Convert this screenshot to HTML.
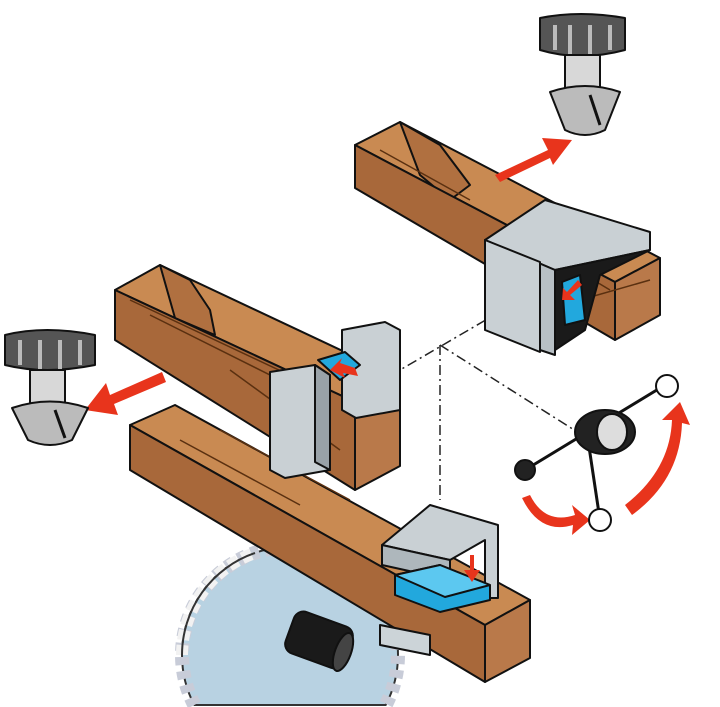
<!DOCTYPE html>
<html><head><meta charset="utf-8"><style>html,body{margin:0;padding:0;background:#fff;width:720px;height:707px;overflow:hidden}svg{display:block}</style></head>
<body>
<svg width="720" height="707" viewBox="0 0 720 707" xmlns="http://www.w3.org/2000/svg" stroke="#111" stroke-width="2" stroke-linejoin="round">
<!-- saw blade (clipped within frame) -->
<g>
<path d="M194.3,705 A108,108 0 1 1 385.7,705 Z" fill="#b8d2e2" stroke="#333"/>
<path d="M194.3,705 A108,108 0 1 1 385.7,705" fill="none" stroke="#c8ccd8" stroke-width="14" stroke-dasharray="8 6"/>
<path d="M182,655 A108,108 0 0 1 255,553" fill="none" stroke="#f2f2f2" stroke-width="12" stroke-dasharray="10 5"/>
<path d="M182,655 A108,108 0 0 1 255,553" fill="none" stroke="#333" stroke-width="2"/>
</g>
<!-- dash-dot lines -->
<g fill="none" stroke="#222" stroke-width="1.5" stroke-dasharray="10 4 2 4">
<path d="M520,300 L400,370"/>
<path d="M440,345 L440,500"/>
<path d="M440,345 L590,440"/>
</g>
<!-- bottom beam -->
<polygon points="130,425 175,405 530,600 485,625" fill="#c98a52"/>
<polygon points="130,425 485,625 485,682 130,470" fill="#a8683a"/>
<polygon points="485,625 530,600 530,658 485,682" fill="#b9794a"/>
<path d="M180,440 L300,505 M220,430 L350,500 M400,560 L470,600" stroke="#5a3010" stroke-width="1.5" fill="none"/>
<!-- black cylinder -->
<rect x="288" y="618" width="62" height="44" rx="10" fill="#1a1a1a" transform="rotate(20 319 640)"/>
<ellipse cx="343" cy="652" rx="8" ry="20" fill="#444" transform="rotate(20 343 652)"/>
<!-- small plate under -->
<polygon points="380,625 430,635 430,655 380,645" fill="#ccd4d8"/>
<!-- bottom bracket -->
<polygon points="382,545 430,505 498,525 498,598 485,598 485,540 450,560" fill="#c9d0d4"/>
<polygon points="382,545 450,560 450,580 382,565" fill="#aeb7bc"/>
<polygon points="395,575 440,565 490,585 490,600 440,612 395,595" fill="#22a8dd"/>
<polygon points="395,575 440,565 490,585 445,597" fill="#5cc8f0"/>
<!-- middle beam -->
<polygon points="115,290 160,265 400,378 355,402" fill="#c98a52"/>
<polygon points="160,265 190,280 210,310 215,335 175,318" fill="#b07040"/>
<polygon points="115,290 355,402 355,490 115,340" fill="#a8683a"/>
<polygon points="355,402 400,378 400,466 355,490" fill="#b9794a"/>
<path d="M130,300 L300,380 M150,315 L320,400 M230,370 L340,450" stroke="#5a3010" stroke-width="1.5" fill="none"/>
<!-- plates -->
<polygon points="342,330 385,322 400,330 400,410 356,418 342,410" fill="#c9d0d4"/>
<polygon points="318,360 345,352 360,365 340,380" fill="#22a8dd"/>
<polygon points="270,372 315,365 330,375 330,470 285,478 270,470" fill="#c9d0d4"/>
<polygon points="315,365 330,375 330,470 315,462" fill="#99a2a8"/>
<!-- top beam -->
<polygon points="355,145 400,122 660,258 615,282" fill="#c98a52"/>
<polygon points="400,122 440,145 470,185 450,200 420,175" fill="#b07040"/>
<polygon points="355,145 615,282 615,340 355,188" fill="#a8683a"/>
<polygon points="615,282 660,258 660,315 615,340" fill="#b9794a"/>
<path d="M380,150 L470,200 M560,260 L610,290 M580,300 L650,280" stroke="#5a3010" stroke-width="1.5" fill="none"/>
<!-- top bracket -->
<polygon points="485,240 545,200 650,232 650,250 555,270" fill="#c9d0d4"/>
<polygon points="485,240 555,270 555,355 540,350 540,275 485,255" fill="#b8c0c5"/>
<polygon points="485,240 540,262 540,352 485,330" fill="#c9d0d4"/>
<polygon points="555,270 650,250 600,275 585,330 555,350" fill="#1a1a1a"/>
<polygon points="562,282 580,275 585,320 565,325" fill="#22a8dd"/>
<!-- red arrows -->
<g fill="#e8341c" stroke="none">
<polygon points="495,175 548,150 542,138 572,140 553,165 550,158 500,182"/>
<polygon points="162,372 110,395 106,383 85,410 118,415 114,404 166,382"/>
<polygon points="355,368 340,363 342,358 330,370 345,378 343,373 358,376"/>
<polygon points="582,285 570,295 575,300 562,300 563,288 567,292 578,280"/>
<polygon points="470,555 470,570 464,570 472,582 480,570 474,570 474,555"/>
<path d="M530,495 Q545,525 575,515 L572,505 L590,520 L572,535 L573,525 Q540,535 522,498 Z"/>
<path d="M625,505 Q670,470 672,420 L662,420 L680,402 L690,425 L682,423 Q680,480 632,515 Z"/>
</g>
<!-- handwheel -->
<g>
<line x1="525" y1="470" x2="665" y2="385" stroke-width="3"/>
<line x1="585" y1="420" x2="600" y2="520" stroke-width="3"/>
<ellipse cx="605" cy="432" rx="30" ry="22" fill="#222"/>
<ellipse cx="612" cy="432" rx="15" ry="18" fill="#ddd"/>
<circle cx="525" cy="470" r="10" fill="#222"/>
<circle cx="667" cy="386" r="11" fill="#fff"/>
<circle cx="600" cy="520" r="11" fill="#fff"/>
</g>
<!-- top drill -->
<g>
<path d="M540,18 Q580,10 625,18 L625,50 Q580,62 540,50 Z" fill="#555"/>
<path d="M555,25 L555,50 M570,25 L570,55 M590,25 L590,55 M610,25 L610,50" stroke="#bbb" stroke-width="4"/>
<rect x="565" y="55" width="35" height="35" fill="#d8d8d8"/>
<path d="M550,92 Q585,80 620,92 L605,130 Q585,140 565,130 Z" fill="#bbb"/>
<path d="M590,95 L600,125" stroke="#111" stroke-width="3"/>
</g>
<!-- left drill -->
<g>
<path d="M5,335 Q45,325 95,335 L95,365 Q45,375 5,365 Z" fill="#555"/>
<path d="M20,340 L20,365 M40,340 L40,370 M60,340 L60,370 M80,340 L80,365" stroke="#bbb" stroke-width="4"/>
<rect x="30" y="370" width="35" height="35" fill="#d8d8d8"/>
<path d="M12,408 Q50,395 88,408 L72,440 Q50,450 28,440 Z" fill="#bbb"/>
<path d="M55,410 L65,438" stroke="#111" stroke-width="3"/>
</g>
</svg>
</body></html>
